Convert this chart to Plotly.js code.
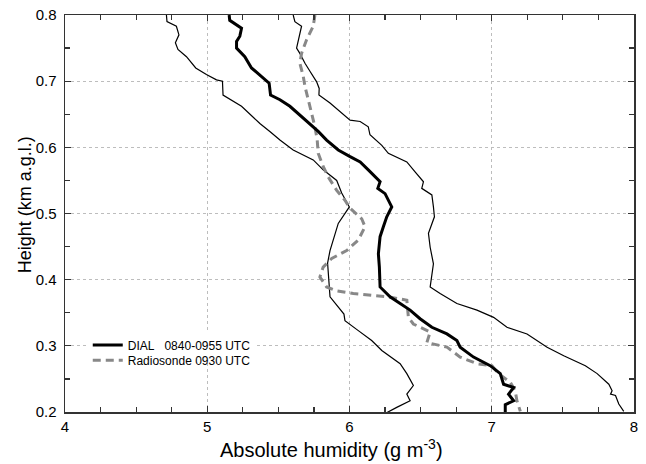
<!DOCTYPE html>
<html>
<head>
<meta charset="utf-8">
<script src="https://cdn.plot.ly/plotly-3.0.1.min.js"></script>
<style>html,body{margin:0;padding:0;background:#fff;}#chart{width:646px;height:464px;}</style>
</head>
<body>
<div id="chart"></div>
<script>
// DIAL mean profile (thick black)
var dialX = [5.154,5.158,5.241,5.229,5.206,5.206,5.264,5.311,5.382,5.435,5.445,5.511,5.581,5.651,5.722,5.780,5.839,5.921,6.004,6.075,6.132,6.215,6.199,6.250,6.297,6.262,6.238,6.215,6.203,6.210,6.215,6.285,6.356,6.426,6.496,6.579,6.685,6.755,6.778,6.872,6.989,7.060,7.083,7.154,7.118,7.154,7.095,7.095];
var dialY = [0.800,0.792,0.780,0.768,0.760,0.750,0.737,0.720,0.707,0.697,0.679,0.672,0.662,0.649,0.636,0.624,0.611,0.596,0.586,0.578,0.566,0.548,0.538,0.530,0.510,0.495,0.480,0.465,0.439,0.419,0.389,0.374,0.364,0.354,0.341,0.328,0.318,0.308,0.298,0.283,0.270,0.258,0.242,0.237,0.227,0.217,0.211,0.199];
// DIAL lower bound (thin black)
var lowX = [4.713,4.717,4.783,4.801,4.776,4.794,4.854,4.919,4.994,5.065,5.107,5.111,5.241,5.370,5.440,5.511,5.604,5.745,5.815,5.910,5.945,5.999,5.921,5.863,5.846,5.858,5.863,5.961,5.968,6.062,6.156,6.227,6.356,6.403,6.449,6.403,6.426,6.332,6.262];
var lowY = [0.800,0.790,0.783,0.770,0.758,0.748,0.737,0.720,0.710,0.702,0.700,0.679,0.662,0.636,0.624,0.611,0.596,0.581,0.566,0.550,0.531,0.510,0.485,0.444,0.425,0.389,0.374,0.348,0.338,0.323,0.308,0.293,0.273,0.258,0.240,0.227,0.217,0.207,0.199];
// DIAL upper bound (thin black)
var upX = [5.604,5.616,5.663,5.651,5.628,5.651,5.687,5.722,5.769,5.787,5.785,5.863,5.933,6.004,6.075,6.132,6.144,6.227,6.273,6.403,6.461,6.520,6.508,6.579,6.590,6.597,6.555,6.567,6.590,6.567,6.637,6.755,6.896,7.013,7.107,7.248,7.389,7.506,7.658,7.741,7.823,7.846,7.835,7.870,7.893,7.928];
var upY = [0.800,0.790,0.783,0.770,0.750,0.742,0.727,0.715,0.699,0.689,0.679,0.667,0.654,0.641,0.639,0.631,0.619,0.603,0.591,0.578,0.563,0.548,0.538,0.528,0.510,0.495,0.470,0.449,0.424,0.389,0.379,0.364,0.354,0.343,0.328,0.318,0.298,0.285,0.270,0.258,0.242,0.232,0.227,0.225,0.212,0.201];
// Radiosonde (grey dashed)
var sondeX = [5.757,5.745,5.699,5.663,5.651,5.675,5.687,5.722,5.757,5.773,5.780,5.815,5.851,5.910,5.968,6.004,6.086,6.109,6.062,5.980,5.875,5.815,5.792,5.839,5.910,6.027,6.168,6.273,6.403,6.414,6.449,6.567,6.544,6.685,6.778,6.896,7.001,7.048,7.130,7.165,7.177,7.201];
var sondeY = [0.800,0.783,0.763,0.742,0.727,0.707,0.692,0.662,0.631,0.611,0.591,0.571,0.555,0.535,0.520,0.508,0.492,0.480,0.460,0.444,0.432,0.419,0.404,0.389,0.383,0.379,0.376,0.374,0.369,0.343,0.333,0.321,0.305,0.298,0.283,0.273,0.270,0.258,0.245,0.232,0.217,0.201];

var legendNames = ["DIAL\u00a0\u00a0\u00a00840-0955 UTC", "Radiosonde 0930 UTC"];
var xTickVals = [4,5,6,7,8];
var yTickVals = [0.2,0.3,0.4,0.5,0.6,0.7,0.8];

var traces = [
  {x: lowX, y: lowY, mode: 'lines', line: {color: '#000', width: 1.2}, showlegend: false, hoverinfo: 'skip'},
  {x: upX, y: upY, mode: 'lines', line: {color: '#000', width: 1.2}, showlegend: false, hoverinfo: 'skip'},
  {x: sondeX, y: sondeY, mode: 'lines', name: legendNames[1], legend: 'legend2', line: {color: '#888', width: 3, dash: '8px,5px'}},
  {x: dialX, y: dialY, mode: 'lines', name: legendNames[0], legend: 'legend', line: {color: '#000', width: 3}}
];

var axisCommon = {
  showline: true, linecolor: '#333', linewidth: 1.5, mirror: 'ticks',
  ticks: 'inside', ticklen: 6, tickcolor: '#333', tickwidth: 1.2,
  showgrid: true, gridcolor: '#bdbdbd', griddash: '3px,3px', gridwidth: 1,
  zeroline: false,
  tickfont: {family: 'Liberation Sans, Arial, sans-serif', size: 15, color: '#000'}
};

var legendFont = {family: 'Liberation Sans, Arial, sans-serif', size: 12, color: '#000'};

var layout = {
  width: 646, height: 464,
  margin: {l: 65, r: 12, t: 15, b: 52},
  paper_bgcolor: '#fff', plot_bgcolor: '#fff',
  showlegend: true,
  legend: {
    x: 0.04, y: 0.205, xanchor: 'left', yanchor: 'top',
    bgcolor: '#fff', borderwidth: 0, font: legendFont, itemwidth: 30
  },
  legend2: {
    x: 0.04, y: 0.167, xanchor: 'left', yanchor: 'top',
    bgcolor: 'rgba(0,0,0,0)', borderwidth: 0, font: legendFont, itemwidth: 30
  },
  xaxis: Object.assign({}, axisCommon, {
    range: [4, 8], tickvals: xTickVals, ticktext: xTickVals.map(String),
    minor: {dtick: 0.25, ticks: 'inside', ticklen: 5, tickcolor: '#333', showgrid: false}
  }),
  yaxis: Object.assign({}, axisCommon, {
    range: [0.2, 0.8], tickvals: yTickVals, ticktext: yTickVals.map(function(v){return v.toFixed(1);}),
    minor: {dtick: 0.05, ticks: 'inside', ticklen: 5, tickcolor: '#333', showgrid: false},
    ticklabelstandoff: 4
  }),
  annotations: [
    {text: 'Absolute humidity (g m<sup>-3</sup>)', xref: 'paper', yref: 'paper', x: 0.468, y: -0.091, xanchor: 'center', yanchor: 'middle', showarrow: false,
     font: {family: 'Liberation Sans, Arial, sans-serif', size: 20, color: '#000'}},
    {text: 'Height (km a.g.l.)', xref: 'paper', yref: 'paper', x: -0.071, y: 0.522, xanchor: 'center', yanchor: 'middle', textangle: -90, showarrow: false,
     font: {family: 'Liberation Sans, Arial, sans-serif', size: 18, color: '#000'}}
  ]
};

Plotly.newPlot('chart', traces, layout, {displayModeBar: false, staticPlot: true});
</script>
</body>
</html>
